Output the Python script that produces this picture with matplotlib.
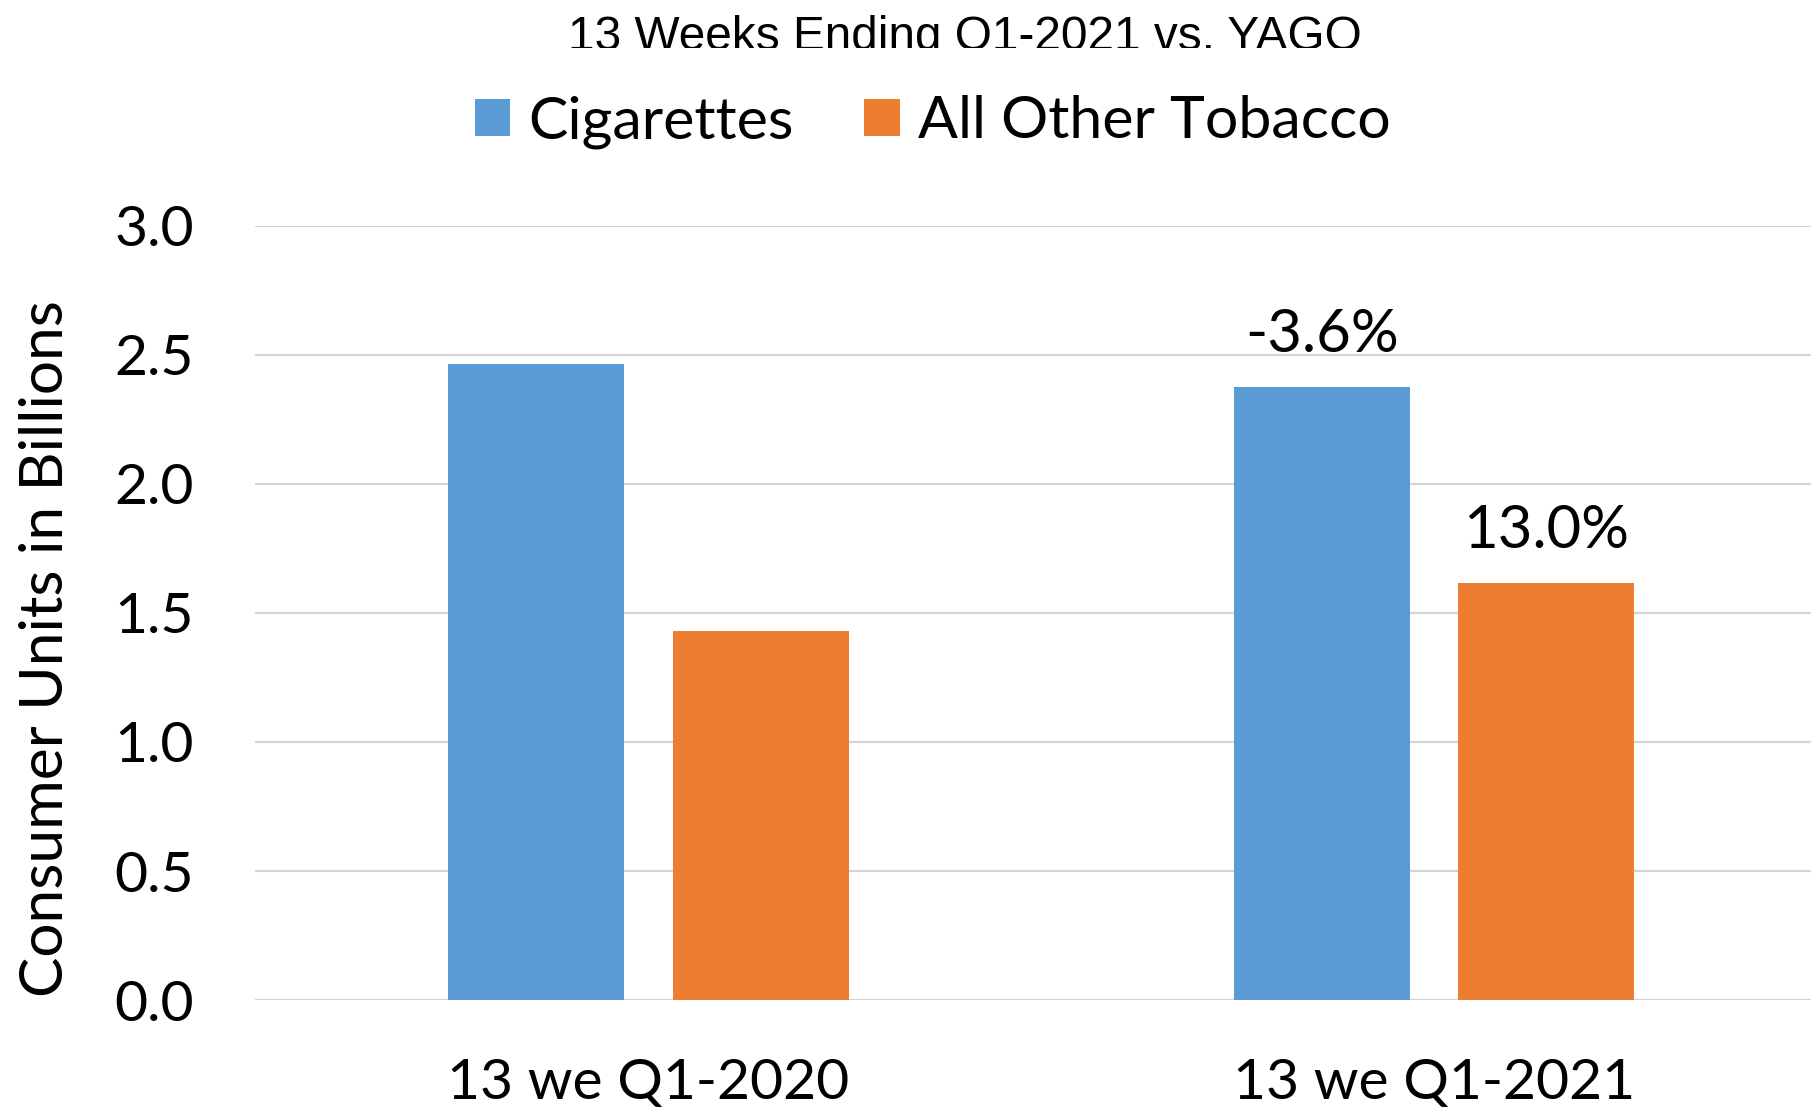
import numpy as np
import matplotlib.pyplot as plt
from matplotlib.transforms import Bbox, TransformedBbox

periods = ["13 we Q1-2020", "13 we Q1-2021"]
cigarettes = [2.465, 2.376]
other_tobacco = [1.432, 1.618]
change_labels = [None, "-3.6%"], [None, "13.0%"]
yticks = [0.0, 0.5, 1.0, 1.5, 2.0, 2.5, 3.0]

BLUE = "#5B9BD5"
ORANGE = "#ED7D31"
FONT = "Lato"

fig = plt.figure(figsize=(18.11, 11.11), dpi=100)
ax = fig.add_axes([0.1408, 0.0999, 0.8592, 0.6967])

x = np.arange(len(periods))
width = 0.224
offset = 0.143
bars_cig = ax.bar(x - offset, cigarettes, width, color=BLUE, label="Cigarettes", zorder=3)
bars_oth = ax.bar(x + offset, other_tobacco, width, color=ORANGE, label="All Other Tobacco", zorder=3)

# growth vs. year ago above the current-year bars
for bars, labels in zip((bars_cig, bars_oth), change_labels):
    for bar, lab in zip(bars, labels):
        if lab:
            ax.annotate(lab, (bar.get_x() + bar.get_width() / 2, bar.get_height()),
                        xytext=(0, 18), textcoords="offset points", ha="center", va="bottom",
                        fontsize=43, family=FONT)

ax.set_xlim(-0.501, 1.48)
ax.set_ylim(0, 3.0)
ax.set_yticks(yticks)
ax.set_yticklabels([f"{t:.1f}" for t in yticks], fontsize=41, family=FONT)
ax.set_xticks(x)
ax.set_xticklabels(periods, fontsize=41, family=FONT)
ax.tick_params(axis="y", length=0, pad=44)
ax.tick_params(axis="x", length=0, pad=42)
ax.grid(axis="y", color="#D4D4D4", linewidth=1.6, zorder=0)
for s in ax.spines.values():
    s.set_visible(False)

fig.text(46 / 1811, 1 - 649 / 1111, "Consumer Units in Billions", rotation=90,
         ha="center", va="center", fontsize=43.5, family=FONT)

fig.legend(loc="center", bbox_to_anchor=(0.515, 0.890), ncol=2, frameon=False,
           prop={"family": FONT, "size": 42.5}, handlelength=0.6, handleheight=0.6,
           handletextpad=0.3, columnspacing=1.2)

# title strip is cut off at the bottom
clip = TransformedBbox(Bbox([[0, 1 - 48 / 1111], [1, 1]]), fig.transFigure)
fig.text(0.533, 1 - 50 / 1111, "13 Weeks Ending Q1-2021 vs. YAGO", ha="center", va="baseline",
         fontsize=34.4, family="Liberation Sans", clip_on=True, clip_box=clip)

fig.savefig("out.png", dpi=100)
